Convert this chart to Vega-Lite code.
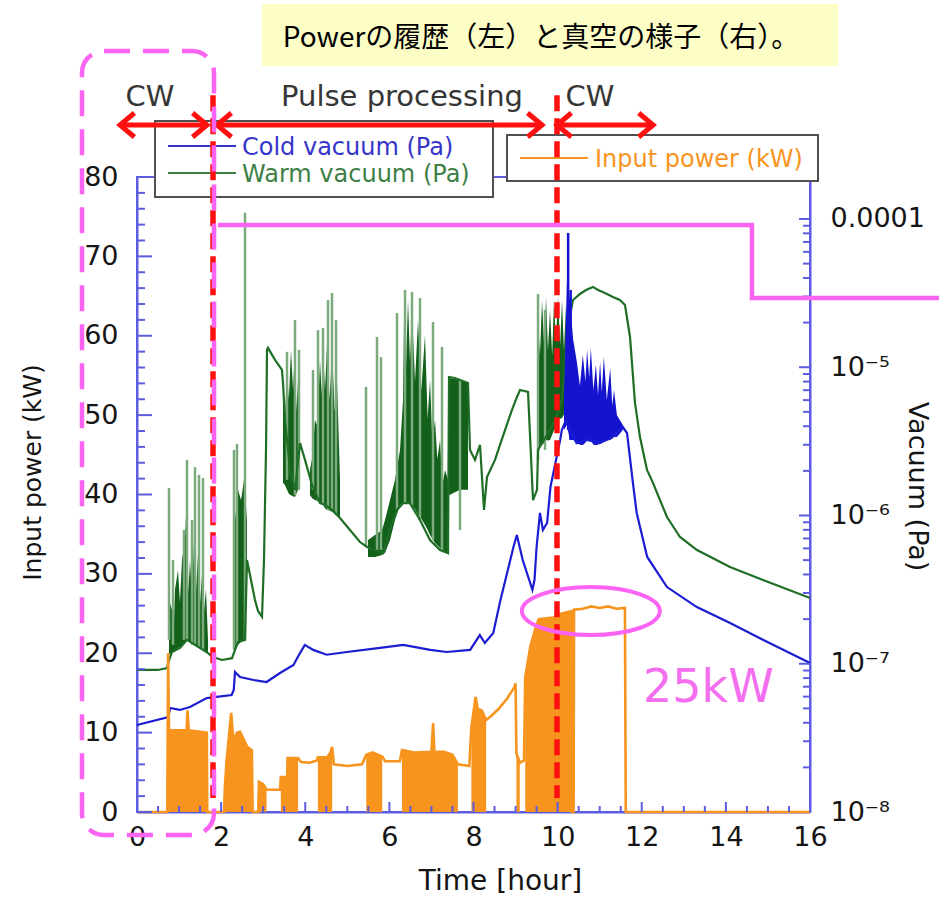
{
  "$schema": "https://vega.github.io/schema/vega-lite/v6.json",
  "width": 673,
  "height": 635,
  "autosize": {"type": "none"},
  "padding": {"left": 137, "top": 177, "right": 129, "bottom": 88},
  "background": "white",
  "config": {
    "view": {"stroke": "#5c5ce0", "strokeWidth": 2},
    "axis": {"labelFont": "DejaVu Sans", "titleFont": "DejaVu Sans"},
    "text": {"font": "DejaVu Sans"}
  },
  "datasets": {
    "power": [
      {"t": 0, "p": 0}, {"t": 0.72, "p": 0},
      {"t": 0.74, "p": 20, "seg": "A"}, {"t": 0.76, "p": 10.3, "seg": "A"}, {"t": 1.18, "p": 10.3, "seg": "A"}, {"t": 1.2, "p": 12.8, "seg": "A"}, {"t": 1.23, "p": 10.3, "seg": "A"}, {"t": 1.66, "p": 10.0, "seg": "A"},
      {"t": 1.67, "p": 0}, {"t": 2.07, "p": 0},
      {"t": 2.09, "p": 3.2, "seg": "B"}, {"t": 2.13, "p": 6.5, "seg": "B"}, {"t": 2.2, "p": 10.3, "seg": "B"}, {"t": 2.24, "p": 12.5, "seg": "B"}, {"t": 2.29, "p": 9.1, "seg": "B"}, {"t": 2.38, "p": 10.0, "seg": "B"}, {"t": 2.45, "p": 10.1, "seg": "B"}, {"t": 2.62, "p": 8.2, "seg": "B"}, {"t": 2.73, "p": 7.8, "seg": "B"},
      {"t": 2.75, "p": 0}, {"t": 2.88, "p": 0},
      {"t": 2.9, "p": 3.8, "seg": "C"}, {"t": 3.0, "p": 3.5, "seg": "C"}, {"t": 3.08, "p": 2.8, "seg": "C"},
      {"t": 3.4, "p": 2.8},
      {"t": 3.42, "p": 4.4, "seg": "D"}, {"t": 3.57, "p": 4.4, "seg": "D"}, {"t": 3.58, "p": 6.8, "seg": "D"}, {"t": 3.83, "p": 6.8, "seg": "D"},
      {"t": 3.9, "p": 6.3}, {"t": 4.1, "p": 6.2}, {"t": 4.28, "p": 6.5},
      {"t": 4.3, "p": 6.9, "seg": "E"}, {"t": 4.52, "p": 6.9, "seg": "E"}, {"t": 4.6, "p": 7.5, "seg": "E"}, {"t": 4.64, "p": 8.2, "seg": "E"},
      {"t": 4.68, "p": 6.0}, {"t": 5.0, "p": 5.8}, {"t": 5.35, "p": 6.0},
      {"t": 5.45, "p": 7.2, "seg": "F"}, {"t": 5.6, "p": 7.5, "seg": "F"}, {"t": 5.83, "p": 7.0, "seg": "F"},
      {"t": 5.9, "p": 6.4}, {"t": 6.25, "p": 6.4},
      {"t": 6.3, "p": 7.8, "seg": "G"}, {"t": 6.6, "p": 7.5, "seg": "G"}, {"t": 7.0, "p": 7.6, "seg": "G"}, {"t": 7.04, "p": 11.2, "seg": "G"}, {"t": 7.07, "p": 7.6, "seg": "G"}, {"t": 7.3, "p": 7.6, "seg": "G"}, {"t": 7.5, "p": 7.2, "seg": "G"}, {"t": 7.63, "p": 6.0, "seg": "G"},
      {"t": 7.9, "p": 5.8},
      {"t": 7.95, "p": 10.7, "seg": "H"}, {"t": 8.05, "p": 14.5, "seg": "H"}, {"t": 8.1, "p": 13.0, "seg": "H"}, {"t": 8.2, "p": 12.8, "seg": "H"}, {"t": 8.3, "p": 11.6, "seg": "H"},
      {"t": 8.4, "p": 12.0}, {"t": 8.6, "p": 13.0}, {"t": 8.8, "p": 14.3}, {"t": 8.98, "p": 15.8}, {"t": 9.0, "p": 16.2},
      {"t": 9.02, "p": 7.4, "seg": "I"}, {"t": 9.1, "p": 6.2, "seg": "I"},
      {"t": 9.2, "p": 6.5},
      {"t": 9.23, "p": 17.0, "seg": "J"}, {"t": 9.35, "p": 20.8, "seg": "J"}, {"t": 9.48, "p": 23.3, "seg": "J"}, {"t": 9.55, "p": 24.3, "seg": "J"}, {"t": 9.9, "p": 24.5, "seg": "J"}, {"t": 10.1, "p": 25.0, "seg": "J"}, {"t": 10.33, "p": 25.3, "seg": "J"},
      {"t": 10.34, "p": 0}, {"t": 10.38, "p": 0},
      {"t": 10.39, "p": 25.5}, {"t": 10.6, "p": 25.6}, {"t": 10.8, "p": 25.9}, {"t": 11.0, "p": 25.7}, {"t": 11.2, "p": 25.9}, {"t": 11.4, "p": 25.6}, {"t": 11.6, "p": 25.7},
      {"t": 11.62, "p": 0}, {"t": 16, "p": 0}
    ],
    "cold": [
      {"t": 0, "v": 3.86e-8}, {"t": 0.745, "v": 4.37e-8}, {"t": 0.785, "v": 5.03e-8}, {"t": 1.02, "v": 4.88e-8}, {"t": 1.26, "v": 5.11e-8},
      {"t": 1.657, "v": 5.87e-8}, {"t": 1.894, "v": 5.97e-8}, {"t": 2.25, "v": 6.15e-8}, {"t": 2.3, "v": 6.65e-8}, {"t": 2.33, "v": 8.8e-8},
      {"t": 2.45, "v": 8.14e-8}, {"t": 2.77, "v": 7.77e-8}, {"t": 3.08, "v": 7.53e-8}, {"t": 3.4, "v": 8.66e-8}, {"t": 3.72, "v": 9.81e-8},
      {"t": 3.875, "v": 1.18e-7}, {"t": 3.99, "v": 1.34e-7}, {"t": 4.19, "v": 1.24e-7}, {"t": 4.51, "v": 1.15e-7}, {"t": 4.99, "v": 1.2e-7},
      {"t": 5.78, "v": 1.28e-7}, {"t": 6.33, "v": 1.34e-7}, {"t": 6.97, "v": 1.24e-7}, {"t": 7.36, "v": 1.2e-7}, {"t": 7.92, "v": 1.24e-7},
      {"t": 8.15, "v": 1.56e-7}, {"t": 8.27, "v": 1.38e-7}, {"t": 8.47, "v": 1.61e-7}, {"t": 8.63, "v": 2.61e-7}, {"t": 8.95, "v": 6.13e-7},
      {"t": 9.03, "v": 7.39e-7}, {"t": 9.17, "v": 5.01e-7}, {"t": 9.4, "v": 3.15e-7}, {"t": 9.45, "v": 3.67e-7}, {"t": 9.5, "v": 6.13e-7},
      {"t": 9.58, "v": 1.04e-6}, {"t": 9.65, "v": 7.99e-7}, {"t": 9.75, "v": 8.9e-7}, {"t": 9.83, "v": 1.56e-6}, {"t": 9.9, "v": 1.94e-6},
      {"t": 10.06, "v": 3.23e-6}, {"t": 10.1, "v": 3.77e-6}, {"t": 10.2, "v": 4.41e-6}, {"t": 10.45, "v": 3.08e-6}, {"t": 10.7, "v": 3.23e-6},
      {"t": 11.0, "v": 3.08e-6}, {"t": 11.3, "v": 3.38e-6}, {"t": 11.55, "v": 3.95e-6}, {"t": 11.65, "v": 3.6e-6}, {"t": 11.79, "v": 1.66e-6},
      {"t": 11.88, "v": 1.04e-6}, {"t": 12.13, "v": 5.25e-7}, {"t": 12.6, "v": 3.29e-7}, {"t": 13.31, "v": 2.41e-7}, {"t": 14.1, "v": 1.88e-7},
      {"t": 14.88, "v": 1.45e-7}, {"t": 16.0, "v": 1.01e-7}
    ],
    "coldBand": [
      {"t": 10.15, "lo": 3.77e-6, "hi": 6.01e-6}, {"t": 10.22, "lo": 4.08e-6, "hi": 3.7e-5}, {"t": 10.29, "lo": 3.23e-6, "hi": 2.84e-5},
      {"t": 10.37, "lo": 3.23e-6, "hi": 1.53e-5}, {"t": 10.46, "lo": 3.08e-6, "hi": 1.07e-5}, {"t": 10.53, "lo": 3.0e-6, "hi": 7.5e-6},
      {"t": 10.6, "lo": 2.99e-6, "hi": 1.21e-5}, {"t": 10.66, "lo": 3.1e-6, "hi": 8.0e-6},
      {"t": 10.7, "lo": 3.23e-6, "hi": 1.31e-5}, {"t": 10.75, "lo": 3.2e-6, "hi": 8.5e-6}, {"t": 10.79, "lo": 3.23e-6, "hi": 1.35e-5}, {"t": 10.85, "lo": 3.0e-6, "hi": 7.0e-6},
      {"t": 10.91, "lo": 2.99e-6, "hi": 1.04e-5}, {"t": 10.96, "lo": 3.0e-6, "hi": 6.5e-6},
      {"t": 11.01, "lo": 3.08e-6, "hi": 1.08e-5}, {"t": 11.05, "lo": 3.1e-6, "hi": 6.8e-6}, {"t": 11.1, "lo": 3.23e-6, "hi": 1.17e-5}, {"t": 11.17, "lo": 3.2e-6, "hi": 6.0e-6},
      {"t": 11.25, "lo": 3.23e-6, "hi": 9.88e-6}, {"t": 11.3, "lo": 3.3e-6, "hi": 5.5e-6},
      {"t": 11.34, "lo": 3.38e-6, "hi": 7.02e-6}, {"t": 11.41, "lo": 3.38e-6, "hi": 4.75e-6}, {"t": 11.55, "lo": 3.77e-6, "hi": 4.08e-6}
    ],
    "coldSpikes": [
      {"t": 10.25, "lo": 3.77e-6, "hi": 8.04e-5}, {"t": 10.31, "lo": 3.23e-6, "hi": 3.32e-5}
    ],
    "warm": [
      {"t": 0, "v": 9.08e-8}, {"t": 0.499, "v": 9.08e-8}, {"t": 0.713, "v": 9.36e-8}, {"t": 0.761, "v": 1.06e-7}, {"t": 0.832, "v": 1.2e-7},
      {"t": 1.022, "v": 1.28e-7}, {"t": 1.189, "v": 1.45e-7}, {"t": 1.379, "v": 1.34e-7}, {"t": 1.569, "v": 1.24e-7}, {"t": 1.688, "v": 1.18e-7},
      {"t": 1.807, "v": 1.11e-7}, {"t": 2.021, "v": 1.06e-7}, {"t": 2.259, "v": 1.09e-7}, {"t": 2.33, "v": 1.24e-7}, {"t": 2.401, "v": 1.4e-7},
      {"t": 2.568, "v": 1.45e-7}, {"t": 2.615, "v": 5.01e-7}, {"t": 2.687, "v": 3.97e-7}, {"t": 2.805, "v": 2.69e-7}, {"t": 2.877, "v": 2.27e-7},
      {"t": 2.972, "v": 2.07e-7}, {"t": 3.019, "v": 5.01e-7}, {"t": 3.067, "v": 2.77e-6}, {"t": 3.091, "v": 1.31e-5}, {"t": 3.114, "v": 1.35e-5},
      {"t": 3.281, "v": 1.12e-5}, {"t": 3.447, "v": 9.58e-6}, {"t": 3.471, "v": 7.83e-6}, {"t": 3.519, "v": 4.41e-6}, {"t": 3.638, "v": 2.03e-6},
      {"t": 3.756, "v": 1.49e-6}, {"t": 3.875, "v": 3.08e-6}, {"t": 3.994, "v": 2.37e-6}, {"t": 4.16, "v": 1.61e-6}, {"t": 4.351, "v": 1.21e-6},
      {"t": 4.47, "v": 1.18e-6}, {"t": 4.636, "v": 1.09e-6}, {"t": 4.826, "v": 9.62e-7}, {"t": 5.064, "v": 7.99e-7}, {"t": 5.302, "v": 6.62e-7},
      {"t": 5.468, "v": 6.13e-7}, {"t": 5.658, "v": 5.85e-7}, {"t": 5.848, "v": 5.58e-7}, {"t": 6.015, "v": 7.99e-7}, {"t": 6.181, "v": 1.09e-6},
      {"t": 6.324, "v": 1.21e-6}, {"t": 6.49, "v": 1.21e-6}, {"t": 6.728, "v": 9.32e-7}, {"t": 6.966, "v": 6.83e-7}, {"t": 7.204, "v": 5.85e-7},
      {"t": 7.394, "v": 5.58e-7}, {"t": 7.418, "v": 8.6e-6}, {"t": 7.56, "v": 8.46e-6}, {"t": 7.869, "v": 7.83e-6}, {"t": 7.917, "v": 2.77e-6},
      {"t": 8.036, "v": 2.37e-6}, {"t": 8.155, "v": 2.99e-6}, {"t": 8.25, "v": 1.09e-6}, {"t": 8.321, "v": 1.82e-6}, {"t": 8.511, "v": 2.37e-6},
      {"t": 8.749, "v": 3.77e-6}, {"t": 8.915, "v": 5.15e-6}, {"t": 9.034, "v": 6.3e-6}, {"t": 9.106, "v": 7.02e-6}, {"t": 9.296, "v": 6.81e-6},
      {"t": 9.415, "v": 1.27e-6}, {"t": 9.51, "v": 1.49e-6}, {"t": 9.534, "v": 2.77e-6}, {"t": 9.819, "v": 3.77e-6}, {"t": 9.962, "v": 4.55e-6},
      {"t": 10.104, "v": 6.01e-6}, {"t": 10.223, "v": 1.78e-5}, {"t": 10.366, "v": 2.84e-5}, {"t": 10.532, "v": 3.12e-5}, {"t": 10.675, "v": 3.32e-5},
      {"t": 10.841, "v": 3.48e-5}, {"t": 10.96, "v": 3.32e-5}, {"t": 11.126, "v": 3.17e-5}, {"t": 11.316, "v": 2.98e-5}, {"t": 11.48, "v": 2.84e-5},
      {"t": 11.602, "v": 2.63e-5}, {"t": 11.721, "v": 1.6e-5}, {"t": 11.839, "v": 5.74e-6}, {"t": 11.958, "v": 3.38e-6}, {"t": 12.125, "v": 2.03e-6},
      {"t": 12.268, "v": 1.66e-6}, {"t": 12.363, "v": 1.42e-6}, {"t": 12.6, "v": 9.77e-7}, {"t": 12.909, "v": 7.16e-7}, {"t": 13.314, "v": 5.85e-7},
      {"t": 14.098, "v": 4.49e-7}, {"t": 14.883, "v": 3.67e-7}, {"t": 16.0, "v": 2.78e-7}
    ],
    "warmBand": [
      {"g": 1, "t": 0.761, "lo": 1.15e-7, "hi": 2.69e-7}, {"g": 1, "t": 0.832, "lo": 1.2e-7, "hi": 2.3e-7}, {"g": 1, "t": 0.87, "lo": 1.22e-7, "hi": 1.6e-7},
      {"g": 1, "t": 0.903, "lo": 1.24e-7, "hi": 3.15e-7}, {"g": 1, "t": 0.975, "lo": 1.28e-7, "hi": 4.29e-7}, {"g": 1, "t": 1.02, "lo": 1.3e-7, "hi": 2.6e-7},
      {"g": 1, "t": 1.07, "lo": 1.32e-7, "hi": 5.01e-7}, {"g": 1, "t": 1.141, "lo": 1.38e-7, "hi": 6.83e-7},
      {"g": 1, "t": 1.189, "lo": 1.45e-7, "hi": 1.49e-6}, {"g": 1, "t": 1.22, "lo": 1.42e-7, "hi": 3.0e-7}, {"g": 1, "t": 1.26, "lo": 1.4e-7, "hi": 5.01e-7},
      {"g": 1, "t": 1.31, "lo": 1.37e-7, "hi": 2.8e-7}, {"g": 1, "t": 1.355, "lo": 1.34e-7, "hi": 6.83e-7}, {"g": 1, "t": 1.4, "lo": 1.31e-7, "hi": 3.0e-7},
      {"g": 1, "t": 1.45, "lo": 1.28e-7, "hi": 5.41e-7}, {"g": 1, "t": 1.5, "lo": 1.26e-7, "hi": 2.6e-7}, {"g": 1, "t": 1.545, "lo": 1.24e-7, "hi": 3.97e-7},
      {"g": 1, "t": 1.59, "lo": 1.22e-7, "hi": 2.2e-7}, {"g": 1, "t": 1.64, "lo": 1.2e-7, "hi": 3.15e-7}, {"g": 1, "t": 1.688, "lo": 1.18e-7, "hi": 1.45e-7},
      {"g": 2, "t": 2.33, "lo": 1.24e-7, "hi": 9.32e-7}, {"g": 2, "t": 2.401, "lo": 1.34e-7, "hi": 1.49e-6}, {"g": 2, "t": 2.473, "lo": 1.4e-7, "hi": 1.27e-6},
      {"g": 2, "t": 2.544, "lo": 1.45e-7, "hi": 1.74e-6}, {"g": 2, "t": 2.615, "lo": 2.69e-7, "hi": 9.32e-7},
      {"g": 3, "t": 3.471, "lo": 1.66e-6, "hi": 7.83e-6}, {"g": 3, "t": 3.52, "lo": 1.6e-6, "hi": 4.5e-6}, {"g": 3, "t": 3.566, "lo": 1.49e-6, "hi": 9.58e-6},
      {"g": 3, "t": 3.61, "lo": 1.4e-6, "hi": 6.0e-6}, {"g": 3, "t": 3.661, "lo": 1.37e-6, "hi": 1.31e-5}, {"g": 3, "t": 3.71, "lo": 1.35e-6, "hi": 7.0e-6},
      {"g": 3, "t": 3.756, "lo": 1.33e-6, "hi": 1.41e-5}, {"g": 3, "t": 3.79, "lo": 1.4e-6, "hi": 5.0e-6}, {"g": 3, "t": 3.828, "lo": 1.49e-6, "hi": 8.2e-6},
      {"g": 3, "t": 3.875, "lo": 2.37e-6, "hi": 4.41e-6},
      {"g": 4, "t": 4.113, "lo": 1.37e-6, "hi": 2.03e-6}, {"g": 4, "t": 4.17, "lo": 1.3e-6, "hi": 2.5e-6}, {"g": 4, "t": 4.232, "lo": 1.27e-6, "hi": 4.41e-6},
      {"g": 4, "t": 4.29, "lo": 1.25e-6, "hi": 4.0e-6}, {"g": 4, "t": 4.351, "lo": 1.21e-6, "hi": 1.12e-5}, {"g": 4, "t": 4.39, "lo": 1.2e-6, "hi": 6.5e-6},
      {"g": 4, "t": 4.422, "lo": 1.18e-6, "hi": 1.31e-5}, {"g": 4, "t": 4.47, "lo": 1.12e-6, "hi": 7.0e-6}, {"g": 4, "t": 4.517, "lo": 1.09e-6, "hi": 1.41e-5},
      {"g": 4, "t": 4.58, "lo": 1.08e-6, "hi": 6.0e-6}, {"g": 4, "t": 4.636, "lo": 1.06e-6, "hi": 1.31e-5}, {"g": 4, "t": 4.7, "lo": 1.03e-6, "hi": 5.0e-6},
      {"g": 4, "t": 4.755, "lo": 1.01e-6, "hi": 8.2e-6}, {"g": 4, "t": 4.826, "lo": 9.62e-7, "hi": 1.74e-6},
      {"g": 5, "t": 5.492, "lo": 5.25e-7, "hi": 6.83e-7}, {"g": 5, "t": 5.658, "lo": 5.25e-7, "hi": 7.39e-7}, {"g": 5, "t": 5.825, "lo": 5.41e-7, "hi": 7.99e-7},
      {"g": 5, "t": 5.896, "lo": 5.58e-7, "hi": 9.32e-7}, {"g": 5, "t": 6.015, "lo": 6.83e-7, "hi": 1.27e-6}, {"g": 5, "t": 6.134, "lo": 9.32e-7, "hi": 1.74e-6},
      {"g": 5, "t": 6.253, "lo": 1.18e-6, "hi": 2.77e-6}, {"g": 5, "t": 6.324, "lo": 1.21e-6, "hi": 6.01e-6},
      {"g": 5, "t": 6.348, "lo": 1.21e-6, "hi": 2.08e-5}, {"g": 5, "t": 6.39, "lo": 1.21e-6, "hi": 9.0e-6}, {"g": 5, "t": 6.443, "lo": 1.21e-6, "hi": 2.84e-5},
      {"g": 5, "t": 6.49, "lo": 1.2e-6, "hi": 1.1e-5}, {"g": 5, "t": 6.538, "lo": 1.18e-6, "hi": 2.43e-5}, {"g": 5, "t": 6.61, "lo": 1.1e-6, "hi": 8.0e-6},
      {"g": 5, "t": 6.681, "lo": 1.01e-6, "hi": 2.08e-5}, {"g": 5, "t": 6.76, "lo": 9.5e-7, "hi": 7.0e-6}, {"g": 5, "t": 6.847, "lo": 8.63e-7, "hi": 1.65e-5},
      {"g": 5, "t": 6.91, "lo": 8.0e-7, "hi": 4.5e-6}, {"g": 5, "t": 6.966, "lo": 7.39e-7, "hi": 8.2e-6}, {"g": 5, "t": 7.02, "lo": 7.0e-7, "hi": 3.2e-6},
      {"g": 5, "t": 7.085, "lo": 6.52e-7, "hi": 4.41e-6}, {"g": 5, "t": 7.14, "lo": 6.3e-7, "hi": 2.4e-6}, {"g": 5, "t": 7.204, "lo": 6.04e-7, "hi": 3.23e-6},
      {"g": 5, "t": 7.26, "lo": 5.8e-7, "hi": 1.6e-6}, {"g": 5, "t": 7.323, "lo": 5.67e-7, "hi": 2.03e-6}, {"g": 5, "t": 7.394, "lo": 5.58e-7, "hi": 1.74e-6},
      {"g": 6, "t": 7.418, "lo": 1.37e-6, "hi": 8.46e-6}, {"g": 6, "t": 7.679, "lo": 1.49e-6, "hi": 8.2e-6}, {"g": 6, "t": 7.869, "lo": 1.49e-6, "hi": 7.83e-6},
      {"g": 7, "t": 9.534, "lo": 2.77e-6, "hi": 2.08e-5}, {"g": 7, "t": 9.58, "lo": 2.9e-6, "hi": 1.2e-5}, {"g": 7, "t": 9.629, "lo": 2.99e-6, "hi": 2.84e-5},
      {"g": 7, "t": 9.68, "lo": 3.1e-6, "hi": 1.4e-5}, {"g": 7, "t": 9.724, "lo": 3.23e-6, "hi": 2.98e-5}, {"g": 7, "t": 9.77, "lo": 3.2e-6, "hi": 1.3e-5},
      {"g": 7, "t": 9.819, "lo": 3.23e-6, "hi": 2.43e-5}, {"g": 7, "t": 9.87, "lo": 3.5e-6, "hi": 1.2e-5}, {"g": 7, "t": 9.914, "lo": 3.77e-6, "hi": 2.84e-5},
      {"g": 7, "t": 9.96, "lo": 4.0e-6, "hi": 1.5e-5}, {"g": 7, "t": 10.009, "lo": 4.41e-6, "hi": 2.98e-5}, {"g": 7, "t": 10.06, "lo": 4.5e-6, "hi": 1.4e-5},
      {"g": 7, "t": 10.104, "lo": 4.55e-6, "hi": 2.84e-5}, {"g": 7, "t": 10.15, "lo": 4.8e-6, "hi": 1.3e-5}, {"g": 7, "t": 10.199, "lo": 5.15e-6, "hi": 2.63e-5}
    ],
    "warmSpikes": [
      {"t": 0.761, "lo": 1.45e-7, "hi": 1.53e-6}, {"t": 0.856, "lo": 1.34e-7, "hi": 5.01e-7}, {"t": 1.117, "lo": 1.45e-7, "hi": 7.99e-7},
      {"t": 1.189, "lo": 1.45e-7, "hi": 2.37e-6}, {"t": 1.308, "lo": 1.34e-7, "hi": 9.32e-7}, {"t": 1.379, "lo": 1.34e-7, "hi": 2.12e-6},
      {"t": 1.474, "lo": 1.28e-7, "hi": 1.88e-6}, {"t": 1.569, "lo": 1.24e-7, "hi": 1.79e-6}, {"t": 2.306, "lo": 1.24e-7, "hi": 2.77e-6},
      {"t": 2.377, "lo": 1.34e-7, "hi": 3.04e-6}, {"t": 2.568, "lo": 1.45e-7, "hi": 1.1e-4}, {"t": 3.566, "lo": 1.74e-6, "hi": 1.27e-5},
      {"t": 3.756, "lo": 1.37e-6, "hi": 2.08e-5}, {"t": 3.851, "lo": 1.49e-6, "hi": 1.31e-5}, {"t": 4.184, "lo": 1.49e-6, "hi": 9.58e-6},
      {"t": 4.303, "lo": 1.27e-6, "hi": 1.78e-5}, {"t": 4.422, "lo": 1.18e-6, "hi": 1.84e-5}, {"t": 4.541, "lo": 1.09e-6, "hi": 2.84e-5},
      {"t": 4.636, "lo": 1.09e-6, "hi": 3.17e-5}, {"t": 4.731, "lo": 1.01e-6, "hi": 2.08e-5}, {"t": 5.444, "lo": 6.13e-7, "hi": 7.36e-6},
      {"t": 5.706, "lo": 5.85e-7, "hi": 1.6e-5}, {"t": 5.801, "lo": 5.85e-7, "hi": 1.17e-5}, {"t": 6.181, "lo": 1.09e-6, "hi": 2.32e-5},
      {"t": 6.372, "lo": 1.21e-6, "hi": 3.32e-5}, {"t": 6.538, "lo": 1.18e-6, "hi": 3.22e-5}, {"t": 6.728, "lo": 9.32e-7, "hi": 2.93e-5},
      {"t": 7.037, "lo": 6.83e-7, "hi": 2.02e-5}, {"t": 7.251, "lo": 5.85e-7, "hi": 1.37e-5}, {"t": 7.679, "lo": 7.99e-7, "hi": 8.2e-6},
      {"t": 9.534, "lo": 2.37e-6, "hi": 3.12e-5}, {"t": 9.7, "lo": 2.77e-6, "hi": 2.43e-5}
    ],
    "tTicks": [
      {"t": 0, "p": 0, "major": true}, {"t": 0.5, "p": 0, "major": false}, {"t": 1, "p": 0, "major": false}, {"t": 1.5, "p": 0, "major": false},
      {"t": 2, "p": 0, "major": true}, {"t": 2.5, "p": 0, "major": false}, {"t": 3, "p": 0, "major": false}, {"t": 3.5, "p": 0, "major": false},
      {"t": 4, "p": 0, "major": true}, {"t": 4.5, "p": 0, "major": false}, {"t": 5, "p": 0, "major": false}, {"t": 5.5, "p": 0, "major": false},
      {"t": 6, "p": 0, "major": true}, {"t": 6.5, "p": 0, "major": false}, {"t": 7, "p": 0, "major": false}, {"t": 7.5, "p": 0, "major": false},
      {"t": 8, "p": 0, "major": true}, {"t": 8.5, "p": 0, "major": false}, {"t": 9, "p": 0, "major": false}, {"t": 9.5, "p": 0, "major": false},
      {"t": 10, "p": 0, "major": true}, {"t": 10.5, "p": 0, "major": false}, {"t": 11, "p": 0, "major": false}, {"t": 11.5, "p": 0, "major": false},
      {"t": 12, "p": 0, "major": true}, {"t": 12.5, "p": 0, "major": false}, {"t": 13, "p": 0, "major": false}, {"t": 13.5, "p": 0, "major": false},
      {"t": 14, "p": 0, "major": true}, {"t": 14.5, "p": 0, "major": false}, {"t": 15, "p": 0, "major": false}, {"t": 15.5, "p": 0, "major": false},
      {"t": 16, "p": 0, "major": true}
    ],
    "pTicks": [
      {"t": 0, "p": 0, "major": true}, {"t": 0, "p": 2, "major": false}, {"t": 0, "p": 4, "major": false}, {"t": 0, "p": 6, "major": false}, {"t": 0, "p": 8, "major": false},
      {"t": 0, "p": 10, "major": true}, {"t": 0, "p": 12, "major": false}, {"t": 0, "p": 14, "major": false}, {"t": 0, "p": 16, "major": false}, {"t": 0, "p": 18, "major": false},
      {"t": 0, "p": 20, "major": true}, {"t": 0, "p": 22, "major": false}, {"t": 0, "p": 24, "major": false}, {"t": 0, "p": 26, "major": false}, {"t": 0, "p": 28, "major": false},
      {"t": 0, "p": 30, "major": true}, {"t": 0, "p": 32, "major": false}, {"t": 0, "p": 34, "major": false}, {"t": 0, "p": 36, "major": false}, {"t": 0, "p": 38, "major": false},
      {"t": 0, "p": 40, "major": true}, {"t": 0, "p": 42, "major": false}, {"t": 0, "p": 44, "major": false}, {"t": 0, "p": 46, "major": false}, {"t": 0, "p": 48, "major": false},
      {"t": 0, "p": 50, "major": true}, {"t": 0, "p": 52, "major": false}, {"t": 0, "p": 54, "major": false}, {"t": 0, "p": 56, "major": false}, {"t": 0, "p": 58, "major": false},
      {"t": 0, "p": 60, "major": true}, {"t": 0, "p": 62, "major": false}, {"t": 0, "p": 64, "major": false}, {"t": 0, "p": 66, "major": false}, {"t": 0, "p": 68, "major": false},
      {"t": 0, "p": 70, "major": true}, {"t": 0, "p": 72, "major": false}, {"t": 0, "p": 74, "major": false}, {"t": 0, "p": 76, "major": false}, {"t": 0, "p": 78, "major": false},
      {"t": 0, "p": 80, "major": true}
    ],
    "vTicks": [
      {"t": 16, "v": 1e-8, "major": true}, {"t": 16, "v": 2e-8, "major": false}, {"t": 16, "v": 3e-8, "major": false}, {"t": 16, "v": 4e-8, "major": false}, {"t": 16, "v": 5e-8, "major": false}, {"t": 16, "v": 6e-8, "major": false}, {"t": 16, "v": 7e-8, "major": false}, {"t": 16, "v": 8e-8, "major": false}, {"t": 16, "v": 9e-8, "major": false},
      {"t": 16, "v": 1e-7, "major": true}, {"t": 16, "v": 2e-7, "major": false}, {"t": 16, "v": 3e-7, "major": false}, {"t": 16, "v": 4e-7, "major": false}, {"t": 16, "v": 5e-7, "major": false}, {"t": 16, "v": 6e-7, "major": false}, {"t": 16, "v": 7e-7, "major": false}, {"t": 16, "v": 8e-7, "major": false}, {"t": 16, "v": 9e-7, "major": false},
      {"t": 16, "v": 1e-6, "major": true}, {"t": 16, "v": 2e-6, "major": false}, {"t": 16, "v": 3e-6, "major": false}, {"t": 16, "v": 4e-6, "major": false}, {"t": 16, "v": 5e-6, "major": false}, {"t": 16, "v": 6e-6, "major": false}, {"t": 16, "v": 7e-6, "major": false}, {"t": 16, "v": 8e-6, "major": false}, {"t": 16, "v": 9e-6, "major": false},
      {"t": 16, "v": 1e-5, "major": true}, {"t": 16, "v": 2e-5, "major": false}, {"t": 16, "v": 3e-5, "major": false}, {"t": 16, "v": 4e-5, "major": false}, {"t": 16, "v": 5e-5, "major": false}, {"t": 16, "v": 6e-5, "major": false}, {"t": 16, "v": 7e-5, "major": false}, {"t": 16, "v": 8e-5, "major": false}, {"t": 16, "v": 9e-5, "major": false},
      {"t": 16, "v": 1e-4, "major": true}
    ],
    "boxes": [
      {"kind": "title", "t": 2.972, "t2": 16.67, "p": 101.79, "p2": 93.98},
      {"kind": "legend", "t": 0.428, "t2": 8.464, "p": 87.06, "p2": 77.48},
      {"kind": "legend", "t": 8.796, "t2": 16.19, "p": 85.29, "p2": 79.5},
      {"kind": "zone", "t": -1.308, "t2": 1.831, "p": 95.87, "p2": -2.9}
    ],
    "keys": [
      {"series": "cold", "t": 0.737, "t2": 2.354, "p": 83.91},
      {"series": "warm", "t": 0.737, "t2": 2.354, "p": 80.5},
      {"series": "power", "t": 9.106, "t2": 10.72, "p": 82.39}
    ],
    "keyText": [
      {"series": "cold", "t": 2.496, "p": 82.77, "text": "Cold vacuum (Pa)"},
      {"series": "warm", "t": 2.496, "p": 79.37, "text": "Warm vacuum (Pa)"},
      {"series": "power", "t": 10.889, "p": 81.26, "text": "Input power (kW)"}
    ],
    "phases": [
      {"t": 0.309, "p": 88.94, "text": "CW"},
      {"t": 6.3, "p": 88.94, "text": "Pulse processing"},
      {"t": 10.77, "p": 88.94, "text": "CW"}
    ],
    "bounds": [
      {"t": 1.807, "p": 90.3, "p2": 1.76},
      {"t": 9.985, "p": 90.3, "p2": 1.76}
    ],
    "spans": [
      {"t": -0.404, "t2": 1.664, "p": 86.55},
      {"t": 1.902, "t2": 9.629, "p": 86.55},
      {"t": 9.985, "t2": 12.27, "p": 86.55}
    ],
    "heads": [
      {"t": -0.404, "p": 86.55, "dir": "left"}, {"t": 1.664, "p": 86.55, "dir": "right"},
      {"t": 1.902, "p": 86.55, "dir": "left"}, {"t": 9.629, "p": 86.55, "dir": "right"},
      {"t": 9.985, "p": 86.55, "dir": "left"}, {"t": 12.27, "p": 86.55, "dir": "right"}
    ],
    "callout": [
      {"o": 1, "t": 1.926, "p": 73.95},
      {"o": 2, "t": 14.62, "p": 73.95},
      {"o": 3, "t": 14.62, "p": 64.76},
      {"o": 4, "t": 19.07, "p": 64.76}
    ],
    "plateau": [
      {"t": 10.79, "p": 25.32, "text": "25kW", "tt": 12.03, "pt": 13.86}
    ],
    "heading": [
      {"t": 9.605, "p": 96.38, "text": "Powerの履歴（左）と真空の様子（右）。"}
    ]
  },
  "encoding": {
    "x": {
      "field": "t",
      "type": "quantitative",
      "scale": {"domain": [0, 16], "nice": false, "zero": false},
      "axis": {
        "values": [0, 2, 4, 6, 8, 10, 12, 14, 16],
        "format": "d",
        "ticks": false,
        "tickSize": 0,
        "domainColor": "#5c5ce0",
        "domainWidth": 2,
        "grid": false,
        "labelFontSize": 27,
        "labelColor": "#151515",
        "labelPadding": 12,
        "labelFlush": false,
        "labelOverlap": false,
        "title": "Time [hour]",
        "titleFontSize": 28,
        "titleFontWeight": "normal",
        "titleColor": "#151515",
        "titleX": 363,
        "titleY": 77,
        "titleAlign": "center",
        "titleBaseline": "alphabetic"
      }
    }
  },
  "layer": [
    {
      "data": {"name": "warmBand"},
      "mark": {"type": "area", "color": "#13601b", "opacity": 1},
      "encoding": {
        "y": {"field": "lo", "type": "quantitative", "scale": {"type": "log", "domain": [1e-8, 1.919e-4], "nice": false}, "axis": null},
        "y2": {"field": "hi"},
        "detail": {"field": "g"}
      }
    },
    {
      "data": {"name": "warmSpikes"},
      "mark": {"type": "rule", "color": "#7bab7d", "strokeWidth": 2.5},
      "encoding": {
        "y": {"field": "lo", "type": "quantitative", "scale": {"type": "log", "domain": [1e-8, 1.919e-4], "nice": false}, "axis": null},
        "y2": {"field": "hi"}
      }
    },
    {
      "data": {"name": "warm"},
      "mark": {"type": "line", "color": "#1f6e25", "strokeWidth": 2.2},
      "encoding": {
        "y": {
          "field": "v",
          "type": "quantitative",
          "scale": {"type": "log", "domain": [1e-8, 1.919e-4], "nice": false},
          "axis": {
            "orient": "right",
            "values": [1e-8, 1e-7, 1e-6, 1e-5, 0.0001],
            "labelExpr": "datum.value > 5e-5 ? '0.0001' : datum.value > 5e-6 ? '10⁻⁵' : datum.value > 5e-7 ? '10⁻⁶' : datum.value > 5e-8 ? '10⁻⁷' : '10⁻⁸'",
            "ticks": false,
            "tickSize": 0,
            "domainColor": "#5c5ce0",
            "domainWidth": 2,
            "grid": false,
            "labelFontSize": 27,
            "labelColor": "#151515",
            "labelPadding": 20,
            "labelAlign": "left",
            "labelBaseline": "middle",
            "labelOverlap": false,
            "labelFlush": false,
            "title": "Vacuum (Pa)",
            "titleFontSize": 27,
            "titleFontWeight": "normal",
            "titleColor": "#151515",
            "titleAngle": 90,
            "titleX": 98,
            "titleY": 309,
            "titleAlign": "center",
            "titleBaseline": "alphabetic"
          }
        }
      }
    },
    {
      "data": {"name": "coldBand"},
      "mark": {"type": "area", "color": "#1414cf", "opacity": 1},
      "encoding": {
        "y": {"field": "lo", "type": "quantitative", "scale": {"type": "log", "domain": [1e-8, 1.919e-4], "nice": false}, "axis": null},
        "y2": {"field": "hi"}
      }
    },
    {
      "data": {"name": "coldSpikes"},
      "mark": {"type": "rule", "color": "#1414cf", "strokeWidth": 2.5},
      "encoding": {
        "y": {"field": "lo", "type": "quantitative", "scale": {"type": "log", "domain": [1e-8, 1.919e-4], "nice": false}, "axis": null},
        "y2": {"field": "hi"}
      }
    },
    {
      "data": {"name": "cold"},
      "mark": {"type": "line", "color": "#1c1cd2", "strokeWidth": 2.2},
      "encoding": {
        "y": {"field": "v", "type": "quantitative", "scale": {"type": "log", "domain": [1e-8, 1.919e-4], "nice": false}, "axis": null}
      }
    },
    {
      "data": {"name": "vTicks"},
      "transform": [{"filter": "datum.major"}],
      "mark": {"type": "point", "shape": "M 0 0 L -2 0", "filled": false, "stroke": "#5c5ce0", "strokeWidth": 2, "size": 121, "opacity": 1},
      "encoding": {
        "y": {"field": "v", "type": "quantitative", "scale": {"type": "log", "domain": [1e-8, 1.919e-4], "nice": false}, "axis": null}
      }
    },
    {
      "data": {"name": "vTicks"},
      "transform": [{"filter": "!datum.major"}],
      "mark": {"type": "point", "shape": "M 0 0 L -2 0", "filled": false, "stroke": "#5c5ce0", "strokeWidth": 2, "size": 49, "opacity": 1},
      "encoding": {
        "y": {"field": "v", "type": "quantitative", "scale": {"type": "log", "domain": [1e-8, 1.919e-4], "nice": false}, "axis": null}
      }
    },
    {
      "encoding": {
        "y": {
          "field": "p",
          "type": "quantitative",
          "scale": {"domain": [0, 80], "nice": false, "zero": false},
          "axis": {
            "orient": "left",
            "values": [0, 10, 20, 30, 40, 50, 60, 70, 80],
            "format": "d",
            "ticks": false,
            "tickSize": 0,
            "domainColor": "#5c5ce0",
            "domainWidth": 2,
            "grid": false,
            "labelFontSize": 27,
            "labelColor": "#151515",
            "labelPadding": 19,
            "labelBaseline": "middle",
            "labelOverlap": false,
            "labelFlush": false,
            "title": "Input power (kW)",
            "titleFontSize": 25,
            "titleFontWeight": "normal",
            "titleColor": "#151515",
            "titleAngle": -90,
            "titleX": -97,
            "titleY": 295,
            "titleAlign": "center",
            "titleBaseline": "alphabetic"
          }
        }
      },
      "layer": [
        {
          "data": {"name": "power"},
          "transform": [{"filter": "datum.seg != null"}],
          "mark": {"type": "area", "color": "#f7941d", "opacity": 1},
          "encoding": {"y2": {"datum": 0}, "detail": {"field": "seg"}}
        },
        {
          "data": {"name": "power"},
          "mark": {"type": "line", "color": "#f7941d", "strokeWidth": 2.6}
        },
        {
          "data": {"name": "pTicks"},
          "transform": [{"filter": "datum.major"}],
          "mark": {"type": "point", "shape": "M 0 0 L 2 0", "filled": false, "stroke": "#5c5ce0", "strokeWidth": 2, "size": 225, "opacity": 1}
        },
        {
          "data": {"name": "pTicks"},
          "transform": [{"filter": "!datum.major"}],
          "mark": {"type": "point", "shape": "M 0 0 L 2 0", "filled": false, "stroke": "#5c5ce0", "strokeWidth": 2, "size": 64, "opacity": 1}
        },
        {
          "data": {"name": "tTicks"},
          "transform": [{"filter": "datum.major"}],
          "mark": {"type": "point", "shape": "M 0 0 L 0 -2", "filled": false, "stroke": "#5c5ce0", "strokeWidth": 2, "size": 100, "opacity": 1}
        },
        {
          "data": {"name": "tTicks"},
          "transform": [{"filter": "!datum.major"}],
          "mark": {"type": "point", "shape": "M 0 0 L 0 -2", "filled": false, "stroke": "#5c5ce0", "strokeWidth": 2, "size": 36, "opacity": 1}
        },
        {
          "data": {"name": "boxes"},
          "transform": [{"filter": "datum.kind === 'legend'"}],
          "mark": {"type": "rect", "fill": "white", "stroke": "#505050", "strokeWidth": 2},
          "encoding": {"x2": {"field": "t2"}, "y2": {"field": "p2"}}
        },
        {
          "data": {"name": "boxes"},
          "transform": [{"filter": "datum.kind === 'title'"}],
          "mark": {"type": "rect", "fill": "#fdfdc6"},
          "encoding": {"x2": {"field": "t2"}, "y2": {"field": "p2"}}
        },
        {
          "data": {"name": "keys"},
          "mark": {"type": "rule", "strokeWidth": 2},
          "encoding": {
            "x2": {"field": "t2"},
            "color": {"field": "series", "type": "nominal", "scale": {"domain": ["cold", "warm", "power"], "range": ["#3535c8", "#3d7f45", "#f7941d"]}, "legend": null}
          }
        },
        {
          "data": {"name": "keyText"},
          "mark": {"type": "text", "align": "left", "baseline": "alphabetic", "fontSize": 24},
          "encoding": {
            "text": {"field": "text"},
            "color": {"field": "series", "type": "nominal", "scale": {"domain": ["cold", "warm", "power"], "range": ["#3535c8", "#3d7f45", "#f39c4a"]}, "legend": null}
          }
        },
        {
          "data": {"name": "heading"},
          "mark": {"type": "text", "align": "center", "baseline": "alphabetic", "fontSize": 28, "font": "Noto Sans CJK JP", "color": "#000000"},
          "encoding": {"text": {"field": "text"}}
        },
        {
          "data": {"name": "phases"},
          "mark": {"type": "text", "align": "center", "baseline": "alphabetic", "fontSize": 29, "color": "#363636"},
          "encoding": {"text": {"field": "text"}}
        },
        {
          "data": {"name": "bounds"},
          "mark": {"type": "rule", "color": "#ff1010", "strokeWidth": 5.5, "strokeDash": [16, 7]},
          "encoding": {"y2": {"field": "p2"}}
        },
        {
          "data": {"name": "spans"},
          "mark": {"type": "rule", "color": "#ff1010", "strokeWidth": 5},
          "encoding": {"x2": {"field": "t2"}}
        },
        {
          "data": {"name": "heads"},
          "transform": [{"filter": "datum.dir === 'left'"}],
          "mark": {"type": "point", "shape": "M 1.2 -1 L 0 0 L 1.2 1", "filled": false, "stroke": "#ff1010", "strokeWidth": 5, "size": 576, "opacity": 1, "strokeJoin": "miter"}
        },
        {
          "data": {"name": "heads"},
          "transform": [{"filter": "datum.dir === 'right'"}],
          "mark": {"type": "point", "shape": "M -1.2 -1 L 0 0 L -1.2 1", "filled": false, "stroke": "#ff1010", "strokeWidth": 5, "size": 576, "opacity": 1, "strokeJoin": "miter"}
        },
        {
          "data": {"name": "boxes"},
          "transform": [{"filter": "datum.kind === 'zone'"}],
          "mark": {"type": "rect", "filled": false, "fill": null, "stroke": "#fb64f3", "strokeWidth": 4.5, "strokeDash": [26, 13], "cornerRadius": 22},
          "encoding": {"x2": {"field": "t2"}, "y2": {"field": "p2"}}
        },
        {
          "data": {"name": "callout"},
          "mark": {"type": "line", "color": "#fb64f3", "strokeWidth": 4.5, "strokeJoin": "miter"},
          "encoding": {"order": {"field": "o"}}
        },
        {
          "data": {"name": "plateau"},
          "mark": {"type": "point", "shape": "M -1 0 A 1 0.348 0 1 1 1 0 A 1 0.348 0 1 1 -1 0 Z", "filled": false, "stroke": "#fb64f3", "strokeWidth": 4, "size": 19044, "opacity": 1}
        },
        {
          "data": {"name": "plateau"},
          "mark": {"type": "text", "align": "left", "baseline": "alphabetic", "fontSize": 46, "color": "#f46ef0"},
          "encoding": {"x": {"field": "tt", "type": "quantitative"}, "y": {"field": "pt", "type": "quantitative"}, "text": {"field": "text"}}
        }
      ]
    }
  ],
  "resolve": {"scale": {"y": "independent"}, "axis": {"y": "independent"}}
}
